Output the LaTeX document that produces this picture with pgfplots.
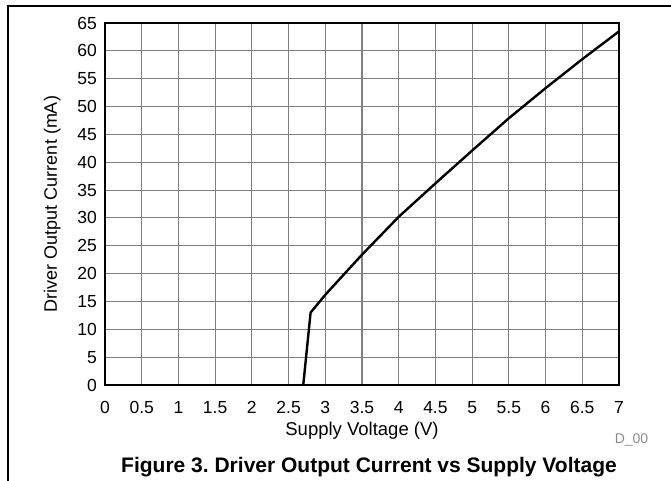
\documentclass[border=0pt]{standalone}
\usepackage{pgfplots}
\pgfplotsset{compat=1.18}
\usepackage{fontspec}
\setmainfont{Liberation Sans}
\frenchspacing
\begin{document}
\begin{tikzpicture}
\useasboundingbox (-105bp,-96bp) rectangle (566bp,385bp);
\draw[line width=1.3bp] (-97bp,-96bp) -- (-97bp,379bp) -- (566bp,379bp);
\begin{axis}[
  at={(0,0)}, anchor=south west,
  scale only axis, width=514bp, height=362bp,
  xmin=0, xmax=7, ymin=0, ymax=65,
  xtick={0,0.5,1,1.5,2,2.5,3,3.5,4,4.5,5,5.5,6,6.5,7},
  xticklabels={0,0.5,1,1.5,2,2.5,3,3.5,4,4.5,5,5.5,6,6.5,7},
  ytick={0,5,10,15,20,25,30,35,40,45,50,55,60,65},
  major tick length=0pt,
  grid=major,
  major grid style={line width=1.1bp, color=black!50},
  axis line style={line width=2.4bp},
  /pgf/number format/assume math mode=true,
  tick label style={font=\fontsize{17.5bp}{20bp}\selectfont, inner sep=0pt},
  xticklabel style={anchor=base, yshift=-28bp},
  yticklabel style={anchor=east, xshift=-8bp},
  clip=false,
]
\addplot[black, line width=2.4bp, line join=round] coordinates {
  (2.70,0) (2.80,13.0) (3.0,16.2) (3.5,23.4) (4.0,30.2) (4.5,36.2)
  (5.0,42.1) (5.5,47.9) (6.0,53.3) (6.5,58.5) (7.0,63.5)
};
\end{axis}
\node[anchor=base, inner sep=0pt, font=\fontsize{18.5bp}{22bp}\selectfont] at (257bp,-50bp) {Supply Voltage (V)};
\node[anchor=base, rotate=90, inner sep=0pt, font=\fontsize{18bp}{22bp}\selectfont] at (-48bp,181bp) {Driver Output Current (mA)};
\node[anchor=base, inner sep=0pt, text=black!45, font=\fontsize{14bp}{16bp}\selectfont] at (526.5bp,-58bp) {D\_00};
\node[anchor=base, inner sep=0pt, font=\fontsize{21bp}{24bp}\selectfont\bfseries] at (264bp,-87bp) {Figure 3. Driver Output Current vs Supply Voltage};
\end{tikzpicture}
\end{document}
